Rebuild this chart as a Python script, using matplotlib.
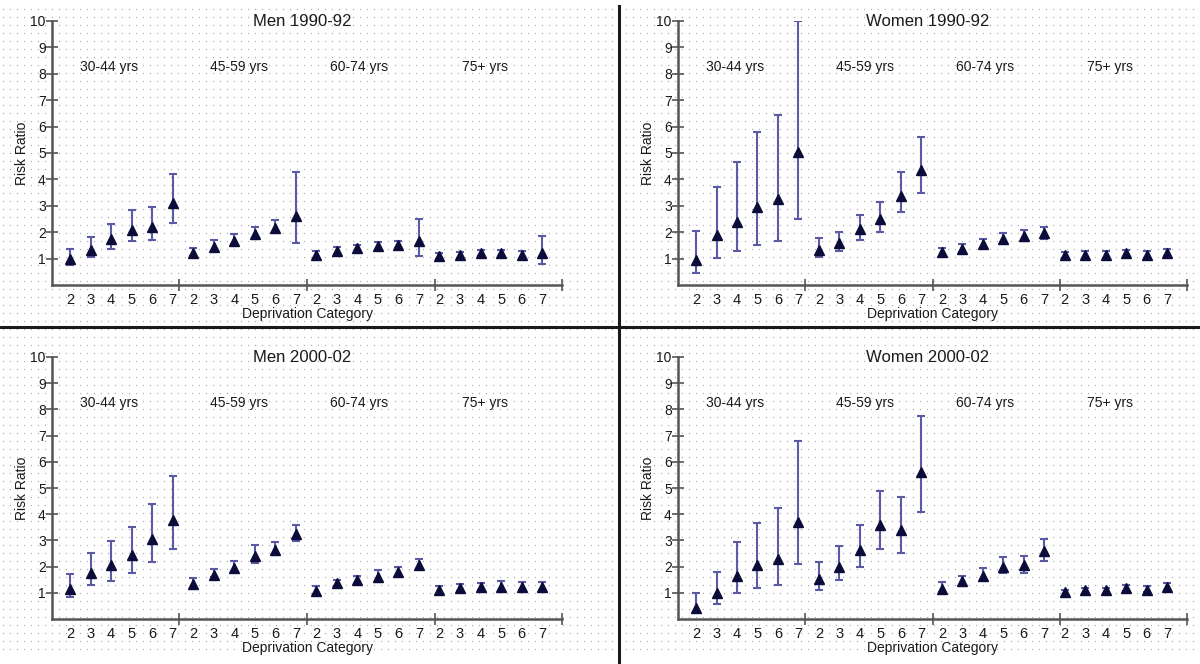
import numpy as np
import matplotlib
matplotlib.use("Agg")
import matplotlib.pyplot as plt
import matplotlib.transforms as mtransforms
from matplotlib.lines import Line2D

plt.rcParams['font.family'] = ['Liberation Sans', 'DejaVu Sans']

# ---------------- data ----------------
categories = ['2', '3', '4', '5', '6', '7']
age_groups = ['30-44 yrs', '45-59 yrs', '60-74 yrs', '75+ yrs']
panel_titles = ['Men 1990-92', 'Women 1990-92', 'Men 2000-02', 'Women 2000-02']
y_ticks = [1, 2, 3, 4, 5, 6, 7, 8, 9, 10]

men_1990_rr = [1.00, 1.33, 1.73, 2.10, 2.18, 3.10,
               1.23, 1.43, 1.68, 1.94, 2.15, 2.62,
               1.14, 1.30, 1.39, 1.48, 1.52, 1.65,
               1.10, 1.14, 1.20, 1.20, 1.14, 1.20]
men_1990_lo = [0.76, 1.05, 1.35, 1.65, 1.70, 2.34,
               1.10, 1.30, 1.54, 1.73, 1.96, 1.60,
               1.01, 1.18, 1.24, 1.33, 1.39, 1.10,
               0.97, 1.01, 1.08, 1.08, 1.01, 0.80]
men_1990_hi = [1.35, 1.80, 2.30, 2.83, 2.95, 4.20,
               1.39, 1.70, 1.94, 2.20, 2.47, 4.28,
               1.30, 1.43, 1.52, 1.62, 1.65, 2.50,
               1.20, 1.24, 1.33, 1.33, 1.27, 1.87]

women_1990_rr = [0.95, 1.90, 2.37, 2.97, 3.27, 5.04,
                 1.33, 1.58, 2.11, 2.50, 3.38, 4.37,
                 1.24, 1.35, 1.54, 1.73, 1.84, 1.96,
                 1.14, 1.14, 1.14, 1.20, 1.14, 1.23]
women_1990_lo = [0.47, 1.01, 1.27, 1.52, 1.67, 2.50,
                 1.05, 1.27, 1.71, 2.00, 2.75, 3.48,
                 1.10, 1.24, 1.39, 1.56, 1.68, 1.73,
                 1.01, 1.01, 1.01, 1.07, 1.01, 1.10]
women_1990_hi = [2.06, 3.73, 4.65, 5.80, 6.44, 10.0,
                 1.77, 2.00, 2.65, 3.16, 4.28, 5.60,
                 1.39, 1.54, 1.75, 1.96, 2.09, 2.20,
                 1.24, 1.27, 1.27, 1.33, 1.27, 1.37]

men_2000_rr = [1.14, 1.75, 2.07, 2.45, 3.05, 3.76,
               1.33, 1.69, 1.94, 2.39, 2.64, 3.25,
               1.08, 1.37, 1.50, 1.60, 1.79, 2.07,
               1.12, 1.18, 1.22, 1.22, 1.22, 1.22]
men_2000_lo = [0.83, 1.28, 1.46, 1.75, 2.16, 2.67,
               1.18, 1.59, 1.82, 2.13, 2.45, 2.99,
               0.95, 1.25, 1.37, 1.40, 1.63, 1.91,
               0.95, 1.05, 1.09, 1.05, 1.09, 1.09]
men_2000_hi = [1.72, 2.52, 2.96, 3.53, 4.38, 5.44,
               1.56, 1.92, 2.22, 2.81, 2.94, 3.60,
               1.25, 1.50, 1.66, 1.88, 2.00, 2.30,
               1.27, 1.35, 1.37, 1.44, 1.40, 1.40]

women_2000_rr = [0.42, 0.99, 1.65, 2.07, 2.30, 3.72,
                 1.52, 2.00, 2.62, 3.57, 3.38, 5.60,
                 1.14, 1.44, 1.66, 1.97, 2.07, 2.58,
                 1.02, 1.09, 1.09, 1.18, 1.12, 1.22]
women_2000_lo = [0.27, 0.57, 0.99, 1.18, 1.31, 2.10,
                 1.12, 1.47, 2.00, 2.67, 2.52, 4.08,
                 1.03, 1.27, 1.47, 1.75, 1.75, 2.20,
                 0.89, 0.95, 0.95, 1.05, 1.02, 1.09]
women_2000_hi = [0.99, 1.79, 2.94, 3.68, 4.23, 6.81,
                 2.17, 2.77, 3.60, 4.87, 4.64, 7.73,
                 1.40, 1.66, 1.94, 2.36, 2.39, 3.05,
                 1.12, 1.18, 1.18, 1.31, 1.27, 1.37]

panels = [
    (men_1990_rr, men_1990_lo, men_1990_hi),
    (women_1990_rr, women_1990_lo, women_1990_hi),
    (men_2000_rr, men_2000_lo, men_2000_hi),
    (women_2000_rr, women_2000_lo, women_2000_hi),
]

# ---------------- style / layout ----------------
W, H = 1200, 664
fig = plt.figure(figsize=(W / 100, H / 100), dpi=100)
fig.patch.set_facecolor('white')

# dotted background pattern over the whole figure
bg = fig.add_axes([0, 0, 1, 1], zorder=-10)
bg.set_xlim(0, W)
bg.set_ylim(H, 0)
bg.axis('off')
gx, gy = np.meshgrid(np.arange(3, W, 7), np.arange(9, H - 8, 8))
bg.plot(gx.ravel(), gy.ravel(), linestyle='none', marker='s', markersize=0.9,
        markeredgewidth=0, color='#b0b0b0')

# panel divider lines
fig.add_artist(Line2D([619 / W, 619 / W], [0, 1 - 6 / H], color='#1a1a1a', lw=2.2,
                      transform=fig.transFigure))
fig.add_artist(Line2D([0, 1], [1 - 327 / H, 1 - 327 / H], color='#1a1a1a', lw=2.2,
                      transform=fig.transFigure))

axes_px = [  # left, right, top(y=10), bottom(y=0) in pixels
    (52, 562, 21, 285),
    (678, 1187, 21, 285),
    (52, 562, 357, 619),
    (678, 1187, 357, 619),
]

err_color = '#5a5aa6'
mk_color = '#0c0c3a'
axis_color = '#555555'
text_color = '#1a1a1a'

n = len(categories) * len(age_groups)
xpos = np.arange(n)
sep_pos = [5.31, 11.55, 17.78, 23.97]
grp_label_x = [0.48, 6.82, 12.67, 19.1]

for (l, r, t, b), (rr, lo, hi), title in zip(axes_px, panels, panel_titles):
    ax = fig.add_axes([l / W, 1 - b / H, (r - l) / W, (b - t) / H])
    ax.set_facecolor('none')
    rr = np.array(rr); lo = np.array(lo); hi = np.array(hi)
    ax.errorbar(xpos, rr, yerr=[rr - lo, hi - rr], fmt='none', ecolor=err_color,
                elinewidth=1.5, capsize=2.8, capthick=1.5, zorder=3)
    ax.plot(xpos, rr, linestyle='none', marker='^', markersize=6.5,
            color=mk_color, markeredgecolor=mk_color, zorder=4)

    ax.set_xlim(-0.88, 23.97)
    ax.set_ylim(0, 10)

    for s in ['top', 'right']:
        ax.spines[s].set_visible(False)
    for s in ['left', 'bottom']:
        ax.spines[s].set_color(axis_color)
        ax.spines[s].set_linewidth(1.8)

    ax.set_yticks(y_ticks)
    ax.set_yticklabels([str(v) for v in y_ticks])
    ax.tick_params(axis='y', direction='inout', length=8, width=1.2, color=axis_color,
                   pad=0.5, labelsize=10, labelcolor=text_color)

    ax.set_xticks(xpos)
    ax.set_xticklabels(categories * len(age_groups))
    ax.tick_params(axis='x', which='major', length=0, pad=6, labelsize=10.5,
                   labelcolor=text_color)
    ax.set_xticks(sep_pos, minor=True)
    ax.tick_params(axis='x', which='minor', direction='inout', length=9, width=1.2,
                   color=axis_color)

    ax.set_xlabel('Deprivation Category', fontsize=10, color=text_color, labelpad=0)
    ax.set_ylabel('Risk Ratio', fontsize=10, color=text_color, labelpad=1)

    trans = mtransforms.blended_transform_factory(ax.transAxes, ax.transData)
    ax.text(0.49, 10.0, title, transform=trans,
            ha='center', va='center', fontsize=12, color=text_color)
    for gx_, lab in zip(grp_label_x, age_groups):
        ax.text(gx_, 8.25, lab, ha='left', va='center', fontsize=10, color=text_color)

fig.savefig('out.png', dpi=100)
